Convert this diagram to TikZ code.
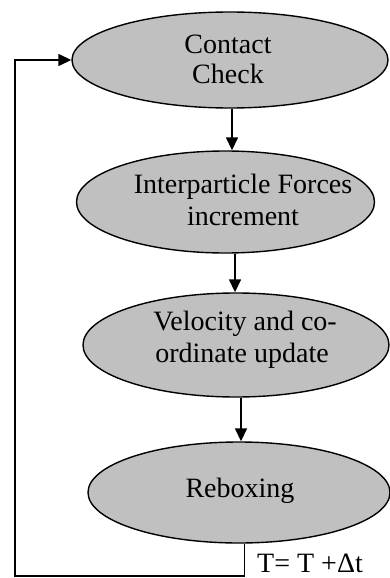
\documentclass[tikz,border=0pt]{standalone}
\usepackage{fontspec}
\setmainfont{Liberation Serif}
\usetikzlibrary{shapes.geometric,arrows.meta}
\definecolor{ellgray}{RGB}{192,192,192}
\begin{document}
\begin{tikzpicture}[x=1pt,y=-1pt,
  proc/.style={ellipse, draw=black, line width=1.4pt, fill=ellgray, inner sep=0pt},
  lbl/.style={anchor=base, inner sep=0pt, font=\fontsize{28}{32}\selectfont},
  arr/.style={line width=1.5pt, -{Triangle[length=13pt,width=12pt]}}]
\useasboundingbox (0,0) rectangle (390,578);
% ellipses
\node[proc, minimum width=316pt, minimum height=96pt]  (e1) at (230,60) {};
\node[proc, minimum width=298pt, minimum height=102pt] (e2) at (225.5,202) {};
\node[proc, minimum width=306pt, minimum height=104pt] (e3) at (236,345) {};
\node[proc, minimum width=302pt, minimum height=101pt] (e4) at (239,492.5) {};
% labels
\node[lbl] (t1a) at (228,53) {Contact};
\node[lbl] (t1b) at (228,84) {Check};
\node[lbl] (t2a) at (243,193) {Interparticle Forces};
\node[lbl] (t2b) at (243,225) {increment};
\node[lbl] (t3a) at (245,330) {Velocity and co-};
\node[lbl] (t3b) at (242,362) {ordinate update};
\node[lbl] (t4)  at (240,497) {Reboxing};
\node[lbl, anchor=base west] (tt) at (257,572) {T= T +Δt};
% guides
\coordinate (g1) at (232,0);
\coordinate (g2) at (235,0);
\coordinate (g3) at (241,0);
\coordinate (g4) at (244.5,0);
\coordinate (c1) at (15,576);
% connectors
\draw[arr] (e1.south -| g1) -- (e2.north -| g1);
\draw[arr] (e2.south -| g2) -- (e3.north -| g2);
\draw[arr] (e3.south -| g3) -- (e4.north -| g3);
\draw[arr] (e4.south -| g4) |- (c1) |- (e1.west);
\end{tikzpicture}
\end{document}
